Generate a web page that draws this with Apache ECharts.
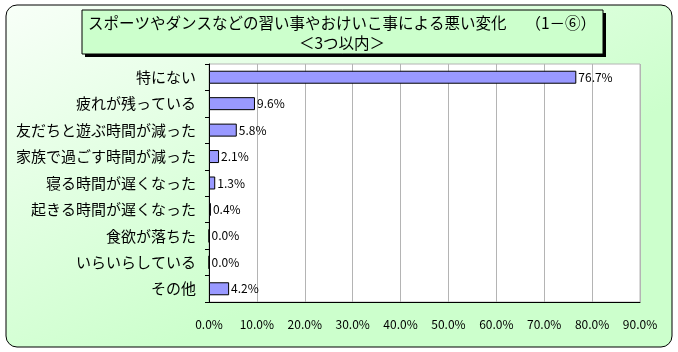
<!DOCTYPE html>
<html>
<head>
<meta charset="utf-8">
<script src="https://cdn.jsdelivr.net/npm/echarts@6/dist/echarts.min.js"></script>
<style>
html,body{margin:0;padding:0;background:#fff;}
#main{width:678px;height:352px;}
</style>
</head>
<body>
<div id="main"></div>
<script type="text/javascript">
var categories = ['特にない', '疲れが残っている', '友だちと遊ぶ時間が減った', '家族で過ごす時間が減った',
    '寝る時間が遅くなった', '起きる時間が遅くなった', '食欲が落ちた', 'いらいらしている', 'その他'];
var values = [76.7, 9.6, 5.8, 2.1, 1.3, 0.4, 0.0, 0.0, 4.2];
var titleLines = ['スポーツやダンスなどの習い事やおけいこ事による悪い変化　 （1－⑥）', '＜3つ以内＞'];

var font = '"Noto Sans CJK JP", "Noto Sans", sans-serif';
var chart = echarts.init(document.getElementById('main'));

var option = {
    animation: false,
    textStyle: { fontFamily: font },
    graphic: [
        {
            type: 'rect', z: -10,
            shape: { x: 6, y: 5, width: 666, height: 342, r: 11 },
            style: {
                fill: new echarts.graphic.LinearGradient(0, 0, 0.25, 1, [
                    { offset: 0, color: '#F8FFF8' },
                    { offset: 1, color: '#CCFFCC' }
                ]),
                stroke: '#000', lineWidth: 1
            }
        },
        // title box shadow + box
        {
            type: 'rect', z: 10,
            shape: { x: 85, y: 13, width: 521, height: 44 },
            style: { fill: '#000' }
        },
        {
            type: 'rect', z: 11,
            shape: { x: 82, y: 10, width: 521, height: 44 },
            style: { fill: '#CCFFCC', stroke: '#000', lineWidth: 1 }
        },
        {
            type: 'text', z: 12,
            x: 342, y: 13,
            style: {
                text: titleLines.join('\n'),
                fill: '#000',
                font: '15.5px ' + font,
                align: 'center',
                verticalAlign: 'top',
                lineHeight: 20
            }
        }
    ],
    grid: {
        left: 209, right: 38, top: 64, bottom: 50,
        show: true, backgroundColor: '#fff', borderColor: '#B4B4B4', borderWidth: 1
    },
    xAxis: {
        type: 'value',
        min: 0, max: 90, interval: 10,
        axisLine: { show: true, lineStyle: { color: '#000' } },
        axisTick: { show: false },
        splitLine: { show: true, lineStyle: { color: '#B4B4B4' } },
        axisLabel: {
            color: '#000', fontSize: 12, margin: 16, fontFamily: font,
            formatter: function (v) { return v.toFixed(1) + '%'; }
        }
    },
    yAxis: {
        type: 'category',
        data: categories,
        inverse: true,
        axisLine: { show: true, lineStyle: { color: '#000' } },
        axisTick: { show: true, length: 4, lineStyle: { color: '#000' } },
        axisLabel: { color: '#000', fontSize: 15, margin: 13, fontFamily: font }
    },
    series: [{
        type: 'bar',
        data: values,
        barWidth: 13,
        itemStyle: { color: '#9999FF', borderColor: '#000', borderWidth: 1 },
        label: {
            show: true, position: 'right', distance: 2,
            color: '#000', fontSize: 12, fontFamily: font,
            formatter: function (p) { return p.value.toFixed(1) + '%'; }
        }
    }]
};

chart.setOption(option);
</script>
</body>
</html>
